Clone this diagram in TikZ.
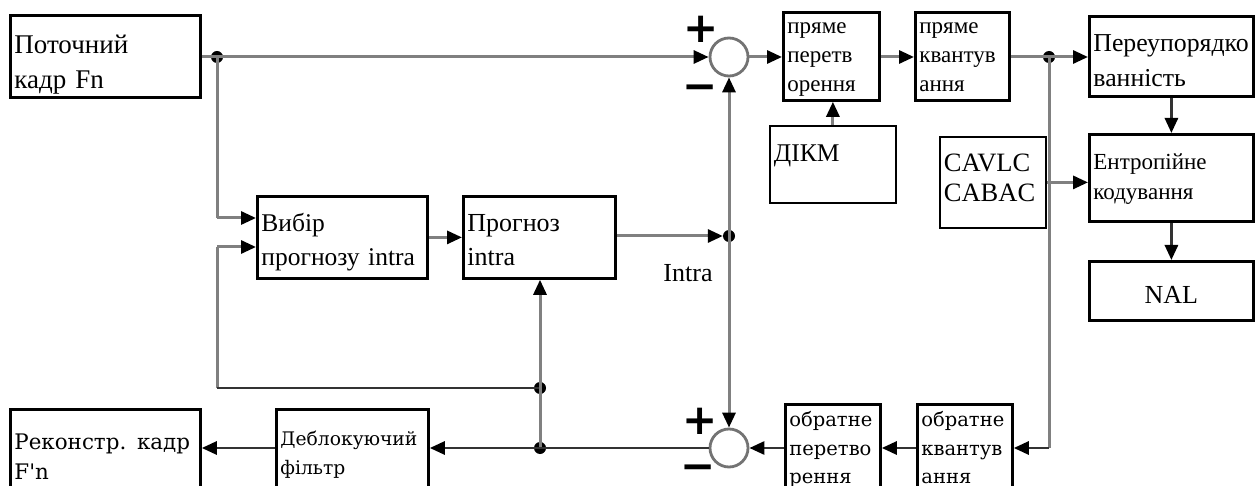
\documentclass[tikz,border=0pt]{standalone}
\usepackage{fontspec}
\setmainfont{Liberation Serif}
\newfontfamily\camf{DejaVu Serif}
\newfontfamily\sgnf{DejaVu Sans}
\usetikzlibrary{arrows.meta,calc}
\newcommand\tx[2][0pt]{\raisebox{-#1}[\height][\depth]{\begin{tabular}[t]{@{}l@{}}#2\end{tabular}}}
\begin{document}
\begin{tikzpicture}[x=1pt,y=-1pt,
  box/.style={draw=black, line width=2.8pt, inner xsep=4pt, inner ysep=0pt, align=left, anchor=north west},
  thinbox/.style={box, line width=1.8pt},
  conn/.style={line width=3pt, draw=black!50},
  dk/.style={line width=2.8pt, draw=black!80},
  arr/.style={-{Triangle[length=15pt,width=13pt,color=black]}},
  dot/.style={circle, fill=black, inner sep=0pt, minimum size=12pt},
  sum/.style={circle, draw=black!55, line width=2.8pt, minimum size=38pt, inner sep=0pt},
  sgn/.style={font={\sgnf\bfseries\fontsize{42}{42}\selectfont}, inner sep=0pt},
  fA/.style={font={\fontsize{27}{35}\selectfont}},
  fB/.style={font={\fontsize{25.5}{34}\selectfont}},
  fC/.style={font={\fontsize{23}{29}\selectfont}},
  fD/.style={font={\camf\fontsize{19.5}{28.5}\selectfont}}
]
\useasboundingbox (0,0) rectangle (1260,486);
\fill[white] (0,0) rectangle (1260,486);
\clip (0,0) rectangle (1260,486);

% boxes
\node[box, fA, text width=182pt, minimum height=82pt] (cur) at (9,14) {\tx[8pt]{Поточний\\кадр Fn}};
\node[box, fB, text width=162pt, minimum height=82pt] (sel) at (256,195) {\tx[4pt]{Вибір\\прогнозу intra}};
\node[box, font={\fontsize{26}{34}\selectfont}, text width=144pt, minimum height=82pt] (pr) at (462,195) {\tx[4pt]{Прогноз\\intra}};
\node[box, fC, text width=88pt, minimum height=88pt] (p1) at (782,11) {\tx{пряме\\перетв\\орення}};
\node[box, fC, text width=86pt, minimum height=88pt] (p2) at (914,11) {\tx{пряме\\квантув\\ання}};
\node[box, font={\fontsize{25.8}{35}\selectfont}, text width=156pt, minimum height=80pt] (reo) at (1088,15) {\tx[6pt]{Переупорядко\\ванність}};
\node[box, font={\fontsize{23}{30}\selectfont}, text width=156pt, minimum height=87pt] (ent) at (1088,133) {\tx[1pt]{Ентропійне\\кодування}};
\node[box, font={\fontsize{26}{30}\selectfont}, align=center, text width=156pt, minimum height=59pt] (nal) at (1088,260) {\tx[7pt]{NAL}};
\node[thinbox, font={\fontsize{26.5}{30}\selectfont}, text width=98pt, minimum height=91pt] (cav) at (939,136) {\tx[-1.5pt]{CAVLC\\CABAC}};
\node[thinbox, font={\fontsize{25.5}{30}\selectfont}, text width=118pt, minimum height=77pt] (dikm) at (769,125) {\tx[-8.5pt]{ДІКМ}};
\node[box, fD, text width=87pt, minimum height=90pt] (iq) at (916,403) {\tx{обратне\\квантув\\ання}};
\node[box, fD, text width=87pt, minimum height=90pt] (it) at (784,403) {\tx{обратне\\перетво\\рення}};
\node[box, font={\camf\fontsize{18.7}{29}\selectfont}, text width=144pt, minimum height=89pt] (db) at (275,408) {\tx{Деблокуючий\\фільтр}};
\node[box, font={\camf\fontsize{21.4}{30}\selectfont}, text width=182pt, minimum height=98pt] (rec) at (9,408) {\tx{Реконстр. кадр\\F'n}};

% summing junctions and signs
\node[sum] (sumT) at (729,57) {};
\node[sum] (sumB) at (729,448) {};
\node[sgn] (pT) at (701,29) {+};
\node[sgn] (mT) at (700,93) {−};
\node[sgn] (pB) at (700,421) {+};
\node[sgn] (mB) at (698,473) {−};

% label
\node[font={\fontsize{26}{26}\selectfont}] (intra) at (688,273) {Intra};

% dots and corners
\node[dot] (d1) at (217,57) {};
\node[dot] (d2) at (729,236) {};
\node[dot] (d3) at (540,388) {};
\node[dot] (d4) at (540,448) {};
\node[dot] (d5) at (1049,57) {};
\coordinate (e1) at (217,218);
\coordinate (e2) at (217,247);
\coordinate (e3) at (217,388);
\coordinate (e4) at (1049,448);

% connectors
\draw[conn] (cur.east |- d1) -- (d1.center);
\draw[conn,arr] (d1.center) -- (sumT.west);
\draw[conn] (d1.center) -- (e1);
\draw[conn,arr] (e1) -- (e1 -| sel.west);
\draw[conn,arr] (e2) -- (e2 -| sel.west);
\draw[conn] (e2) -- (e3);
\draw[dk] (e3) -- (d3.center);
\draw[conn,arr] (d3.center) -- (d3 |- pr.south);
\draw[conn] (d3.center) -- (d4.center);
\draw[conn,arr] (sel.east) -- (pr.west);
\draw[conn,arr] (pr.east |- d2) -- (d2.west);
\draw[conn,arr] (d2.center) -- (sumT.south);
\draw[conn,arr] (d2.center) -- (sumB.north);
\draw[conn,arr] (sumT.east) -- (sumT.east -| p1.west);
\draw[conn,arr] (p1.east |- sumT) -- (p2.west |- sumT);
\draw[conn] (p2.east |- d5) -- (d5.center);
\draw[conn,arr] (d5.center) -- (d5 -| reo.west);
\draw[conn] (d5.center) -- (e4);
\draw[dk,arr] (e4) -- (e4 -| iq.east);
\draw[dk,arr] (iq.west |- e4) -- (it.east |- e4);
\draw[dk,arr] (it.west |- e4) -- (sumB.east);
\draw[dk] (sumB.west) -- (d4.center);
\draw[dk,arr] (d4.center) -- (d4 -| db.east);
\draw[dk,arr] (db.west |- d4) -- (d4 -| rec.east);
\draw[conn,arr] (dikm.north) -- (dikm.north |- p1.south);
\draw[conn,arr] (cav.east) -- (cav.east -| ent.west);
\draw[dk,arr] (reo.south) -- (ent.north);
\draw[dk,arr] (ent.south) -- (nal.north);
\end{tikzpicture}
\end{document}
